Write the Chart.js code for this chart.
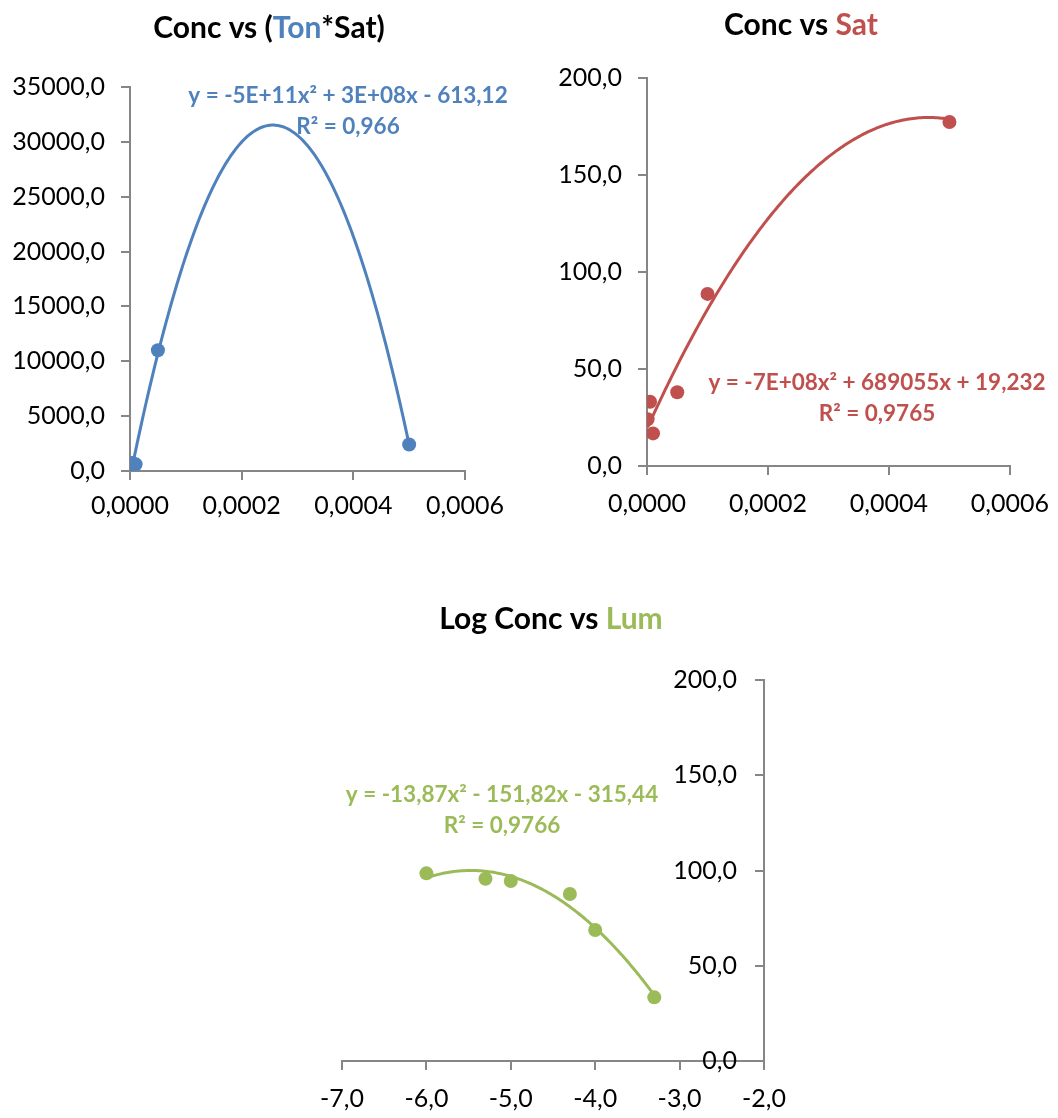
<!DOCTYPE html>
<html>
<head>
<meta charset="utf-8">
<title>Conc fits</title>
<script src="https://cdn.jsdelivr.net/npm/chart.js@4.4.1/dist/chart.umd.min.js"></script>
<style>
  body { margin: 0; background: #fff; overflow: hidden; }
  .box { position: absolute; }
</style>
</head>
<body>
<div class="box" style="left:0;top:0"><canvas id="tonSat" width="530" height="530"></canvas></div>
<div class="box" style="left:530px;top:0"><canvas id="sat" width="533" height="530"></canvas></div>
<div class="box" style="left:300px;top:590px"><canvas id="lum" width="500" height="528"></canvas></div>
<script>
// measured points
const tonSatX = [0.000001, 0.000005, 0.00001, 0.00005, 0.0005];
const tonSatY = [700, 720, 620, 11000, 2420];

const satX = [0.000001, 0.000005, 0.00001, 0.00005, 0.0001, 0.0005];
const satY = [24.1, 33.1, 16.8, 38.0, 88.7, 177.3];

const logConc = [-6.0, -5.3, -5.0, -4.3, -4.0, -3.3];
const lumY = [98.5, 95.7, 94.5, 87.7, 68.8, 33.4];

// polynomial trendlines (a, b, c) for y = a*x^2 + b*x + c
const fitTonSat = [-4.9e11, 2.51e8, -613.12];
const fitSat = [-7.4e8, 689055, 19.232];
const fitLum = [-13.87, -151.82, -315.44];

const blue = "#4F81BD";
const red = "#C0504D";
const green = "#9BBB59";
const axisGrey = "#868686";

function fmt(decimals) {
  return (v) => Number(v).toFixed(decimals).replace(".", ",");
}

function toPoints(xs, ys) {
  return xs.map((x, i) => ({ x: x, y: ys[i] }));
}

// sample the trendline between the first and last measured x
function curvePoints(coef, xs) {
  const from = Math.min(...xs);
  const to = Math.max(...xs);
  const pts = [];
  const n = 150;
  for (let i = 0; i <= n; i++) {
    const x = from + (to - from) * i / n;
    pts.push({ x: x, y: coef[0] * x * x + coef[1] * x + coef[2] });
  }
  return pts;
}

function axis(min, max, step, decimals, pad, extra) {
  const a = {
    type: "linear",
    min: min,
    max: max,
    ticks: {
      stepSize: step,
      callback: fmt(decimals),
      color: "#000",
      font: { family: "Lato", size: 25 },
      padding: pad,
    },
    grid: { drawOnChartArea: false, drawTicks: true, tickLength: 9, color: axisGrey, lineWidth: 2 },
    border: { display: true, color: axisGrey, width: 2 },
  };
  if (extra) {
    Object.keys(extra).forEach((k) => {
      if (k === "ticks" || k === "grid") Object.assign(a[k], extra[k]);
      else a[k] = extra[k];
    });
  }
  return a;
}

// title in coloured pieces plus the trendline equation and R²
const overlayText = {
  id: "overlayText",
  afterDraw(chart, args, opts) {
    const ctx = chart.ctx;
    const area = chart.chartArea;
    ctx.save();
    ctx.textBaseline = "alphabetic";
    ctx.textAlign = "left";
    ctx.font = "bold 30px Lato";
    let total = 0;
    opts.title.forEach((p) => { total += ctx.measureText(p[0]).width; });
    let x = opts.titleX - total / 2;
    opts.title.forEach((p) => {
      ctx.fillStyle = p[1];
      ctx.fillText(p[0], x, opts.titleY);
      x += ctx.measureText(p[0]).width;
    });

    ctx.font = "bold 22.5px Lato";
    ctx.fillStyle = opts.color;
    ctx.textAlign = "center";
    const ex = area.left + opts.eqDx;
    const ey = area.top + opts.eqDy;
    ctx.fillText(opts.equation, ex, ey);
    ctx.fillText(opts.r2, ex, ey + 31);
    ctx.restore();
  },
};

function makeChart(id, color, points, curve, scales, padding, text) {
  return new Chart(document.getElementById(id), {
    type: "scatter",
    data: {
      datasets: [
        {
          data: points,
          backgroundColor: color,
          borderColor: color,
          pointRadius: 7,
          pointBorderWidth: 0,
        },
        {
          data: curve,
          showLine: true,
          borderColor: color,
          borderWidth: 3,
          pointRadius: 0,
          tension: 0,
        },
      ],
    },
    options: {
      responsive: false,
      animation: false,
      devicePixelRatio: 1,
      layout: { padding: padding },
      scales: scales,
      plugins: {
        legend: { display: false },
        tooltip: { enabled: false },
        overlayText: Object.assign({ color: color }, text),
      },
    },
    plugins: [overlayText],
  });
}

// Conc vs (Ton*Sat)
makeChart("tonSat", blue, toPoints(tonSatX, tonSatY), curvePoints(fitTonSat, tonSatX),
  {
    x: axis(0, 0.0006, 0.0002, 4, 11, { afterFit: (s) => { s.height = 59; } }),
    y: axis(0, 35000, 5000, 1, 16, { afterFit: (s) => { s.width = 130; } }),
  },
  { left: 0, right: 65, top: 87, bottom: 0 },
  {
    title: [["Conc vs (", "#000"], ["Ton", blue], ["*Sat)", "#000"]],
    titleX: 269, titleY: 38,
    equation: "y = -5E+11x² + 3E+08x - 613,12",
    r2: "R² = 0,966",
    eqDx: 218, eqDy: 16,
  });

// Conc vs Sat
makeChart("sat", red, toPoints(satX, satY), curvePoints(fitSat, satX),
  {
    x: axis(0, 0.0006, 0.0002, 4, 14, { afterFit: (s) => { s.height = 64; } }),
    y: axis(0, 200, 50, 1, 16, { afterFit: (s) => { s.width = 117; } }),
  },
  { left: 0, right: 53, top: 78, bottom: 0 },
  {
    title: [["Conc vs ", "#000"], ["Sat", red]],
    titleX: 271, titleY: 35,
    equation: "y = -7E+08x² + 689055x + 19,232",
    r2: "R² = 0,9765",
    eqDx: 230, eqDy: 312,
  });

// Log Conc vs Lum: value axis sits at x = -2, labels on its inner side
makeChart("lum", green, toPoints(logConc, lumY), curvePoints(fitLum, logConc),
  {
    x: axis(-7, -2, 1, 1, 14, { afterFit: (s) => { s.height = 57; } }),
    y: axis(0, 200, 50, 1, -27, {
      position: "right",
      ticks: { mirror: true },
      grid: { tickLength: -9 },
      afterFit: (s) => { s.width = 36; },
    }),
  },
  { left: 42, right: 0, top: 90, bottom: 0 },
  {
    title: [["Log Conc vs ", "#000"], ["Lum", green]],
    titleX: 251, titleY: 39,
    equation: "y = -13,87x² - 151,82x - 315,44",
    r2: "R² = 0,9766",
    eqDx: 160, eqDy: 122,
  });
</script>
</body>
</html>
